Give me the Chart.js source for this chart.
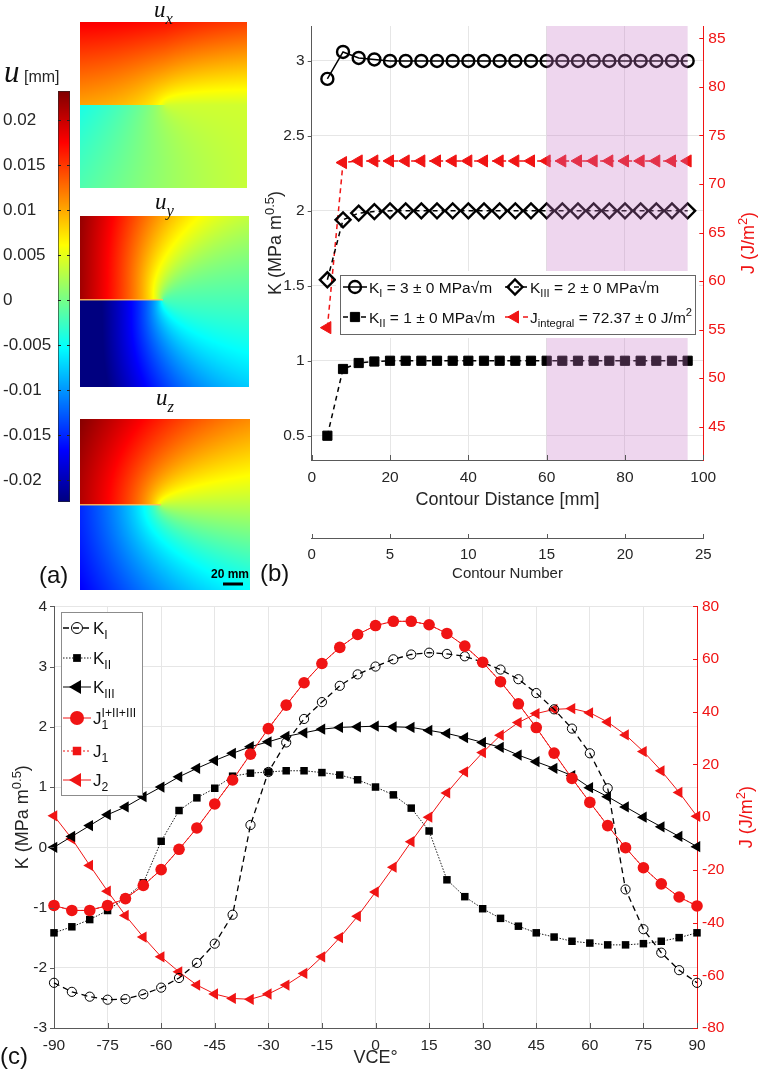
<!DOCTYPE html>
<html>
<head>
<meta charset="utf-8">
<title>Crack tip displacement fields, K and J</title>
<script src="https://cdn.jsdelivr.net/npm/chart.js@4.4.1/dist/chart.umd.min.js"></script>
<style>
  html, body { margin: 0; padding: 0; background: #fff; }
  #page { position: relative; width: 762px; height: 1077px; overflow: hidden; }
  canvas { position: absolute; }
</style>
</head>
<body>
<div id="page">
  <canvas id="panelA" width="255" height="600" style="left:0;top:0"></canvas>
  <canvas id="panelB" width="512" height="590" style="left:250px;top:0"></canvas>
  <canvas id="panelC" width="762" height="487" style="left:0;top:590px"></canvas>
</div>
<script>
const FONT = '"Liberation Sans", Arial, Helvetica, sans-serif';
const SERIF = '"Liberation Serif", "DejaVu Serif", serif';
const INK = '#262626';
const RED = 'rgb(240,20,20)';
const GRID = '#e6e6e6';
const AXIS = '#595959';

Chart.defaults.font.family = FONT;
Chart.defaults.color = INK;

// ---------- (a) colour scale of displacement maps ----------
const uMin = -0.0224, uMax = 0.0232;
const uTicks = [-0.02, -0.015, -0.01, -0.005, 0, 0.005, 0.01, 0.015, 0.02];
const uTickLabels = ['-0.02', '-0.015', '-0.01', '-0.005', '0', '0.005', '0.01', '0.015', '0.02'];

// ---------- (b) K and J against contour ----------
const contourDist = [4, 8, 12, 16, 20, 24, 28, 32, 36, 40, 44, 48, 52, 56, 60, 64, 68, 72, 76, 80, 84, 88, 92, 96];
const kIB   = [2.88, 3.06, 3.02, 3.01, 3.00, 3.00, 3.00, 3.00, 3.00, 3.00, 3.00, 3.00, 3.00, 3.00, 3.00, 3.00, 3.00, 3.00, 3.00, 3.00, 3.00, 3.00, 3.00, 3.00];
const kIIB  = [0.50, 0.945, 0.985, 0.995, 1.00, 1.00, 1.00, 1.00, 1.00, 1.00, 1.00, 1.00, 1.00, 1.00, 1.00, 1.00, 1.00, 1.00, 1.00, 1.00, 1.00, 1.00, 1.00, 1.00];
const kIIIB = [1.54, 1.94, 1.985, 1.995, 2.00, 2.00, 2.00, 2.00, 2.00, 2.00, 2.00, 2.00, 2.00, 2.00, 2.00, 2.00, 2.00, 2.00, 2.00, 2.00, 2.00, 2.00, 2.00, 2.00];
const jIntB = [55.2, 72.2, 72.37, 72.37, 72.37, 72.37, 72.37, 72.37, 72.37, 72.37, 72.37, 72.37, 72.37, 72.37, 72.37, 72.37, 72.37, 72.37, 72.37, 72.37, 72.37, 72.37, 72.37, 72.37];
const shadeB = [60, 96];
const distTicks = [0, 20, 40, 60, 80, 100];
const contourNumTicks = [0, 5, 10, 15, 20, 25];
const kTicksB = [0.5, 1, 1.5, 2, 2.5, 3];
const jTicksB = [45, 50, 55, 60, 65, 70, 75, 80, 85];
const kRangeB = [0.338, 3.233];
const jRangeB = [41.57, 86.27];

// ---------- (c) K and J against VCE angle ----------
const vce = [-90, -85, -80, -75, -70, -65, -60, -55, -50, -45, -40, -35, -30, -25, -20, -15, -10, -5, 0,
             5, 10, 15, 20, 25, 30, 35, 40, 45, 50, 55, 60, 65, 70, 75, 80, 85, 90];
const kIC   = [-2.25, -2.40, -2.48, -2.53, -2.52, -2.44, -2.33, -2.17, -1.92, -1.60, -1.12, 0.37, 1.25, 1.74, 2.13, 2.41, 2.68, 2.87, 3.00,
               3.12, 3.20, 3.23, 3.21, 3.17, 3.07, 2.95, 2.79, 2.56, 2.29, 1.97, 1.56, 0.98, -0.70, -1.36, -1.75, -2.04, -2.25];
const kIIC  = [-1.42, -1.32, -1.20, -1.05, -0.84, -0.59, 0.10, 0.61, 0.82, 0.98, 1.18, 1.23, 1.25, 1.27, 1.27, 1.24, 1.20, 1.12, 1.00,
               0.87, 0.65, 0.27, -0.54, -0.82, -1.02, -1.18, -1.31, -1.42, -1.49, -1.56, -1.59, -1.62, -1.62, -1.60, -1.56, -1.50, -1.42];
const kIIIC = [0.00, 0.18, 0.36, 0.54, 0.67, 0.84, 1.00, 1.17, 1.31, 1.44, 1.56, 1.67, 1.75, 1.84, 1.90, 1.96, 1.99, 2.00, 2.01,
               2.00, 1.99, 1.94, 1.89, 1.82, 1.74, 1.66, 1.53, 1.42, 1.31, 1.19, 0.99, 0.84, 0.67, 0.50, 0.34, 0.18, 0.01];
const jSumC = [-33.5, -35.4, -35.4, -33.5, -30.9, -25.9, -19.9, -12.2, -4.1, 5.0, 14.1, 23.9, 33.6, 42.5, 51.0, 58.3, 64.4, 69.3, 72.7,
               74.3, 74.3, 73.0, 69.7, 64.9, 58.8, 51.4, 43.0, 34.0, 24.3, 14.7, 5.6, -3.2, -11.6, -19.2, -25.3, -30.3, -33.7];
const j1C   = [-33.5, -35.4, -35.4, -33.5, -30.9, -25.9, -19.9, -12.2, -4.1, 5.0, 14.1, 23.9, 33.6, 42.5, 51.0, 58.3, 64.4, 69.3, 72.7,
               74.3, 74.3, 73.0, 69.7, 64.9, 58.8, 51.4, 43.0, 34.0, 24.3, 14.7, 5.6, -3.2, -11.6, -19.2, -25.3, -30.3, -33.7];
const j2C   = [0.5, -8.2, -18.3, -28.1, -37.3, -45.5, -53.0, -58.7, -63.7, -67.1, -68.8, -69.1, -67.1, -63.7, -59.3, -53.0, -45.7, -37.6, -28.4,
               -19.0, -9.3, 0.0, 9.2, 17.2, 24.5, 31.1, 35.9, 39.3, 40.9, 41.2, 39.6, 36.1, 31.2, 24.9, 17.6, 9.4, 0.3];
const vceTicks = [-90, -75, -60, -45, -30, -15, 0, 15, 30, 45, 60, 75, 90];
const kTicksC = [-3, -2, -1, 0, 1, 2, 3, 4];
const jTicksC = [-80, -60, -40, -20, 0, 20, 40, 60, 80];

// ---------- helpers ----------
const pts = (xs, ys) => xs.map((x, i) => ({ x, y: ys[i] }));
const fixedTicks = values => s => { s.ticks = values.map(v => ({ value: v })); };
const plain = v => String(v);

function richText(ctx, parts, x, y, size, color, align, rot, fam, style) {
  const family = fam || FONT, st = style || '';
  ctx.save();
  ctx.translate(x, y);
  if (rot) ctx.rotate(rot);
  ctx.fillStyle = color;
  ctx.textAlign = 'left';
  ctx.textBaseline = 'alphabetic';
  const small = size * 0.72;
  let w = 0;
  const items = parts.map(([t, lvl, noAdv]) => {
    const sz = lvl ? small : size;
    ctx.font = st + sz + 'px ' + family;
    const tw = ctx.measureText(t).width;
    const it = { t, sz, dy: lvl === 1 ? -size * 0.42 : (lvl === -1 ? size * 0.3 : 0), adv: noAdv ? 0 : tw, w: tw };
    w += it.adv;
    return it;
  });
  if (items.length) w = Math.max(w, w - items[items.length - 1].adv + items[items.length - 1].w);
  let cx = align === 'center' ? -w / 2 : (align === 'right' ? -w : 0);
  const base = size * 0.36;
  for (const it of items) {
    ctx.font = st + it.sz + 'px ' + family;
    ctx.fillText(it.t, cx, base + it.dy);
    cx += it.adv;
  }
  ctx.restore();
}

function marker(ctx, style, x, y, r, fill, stroke, lw) {
  ctx.save();
  ctx.beginPath();
  if (style === 'circle') ctx.arc(x, y, r, 0, Math.PI * 2);
  else if (style === 'rect') { const h = r * Math.SQRT1_2; ctx.rect(x - h, y - h, 2 * h, 2 * h); }
  else if (style === 'rectRot') { ctx.moveTo(x - r, y); ctx.lineTo(x, y - r); ctx.lineTo(x + r, y); ctx.lineTo(x, y + r); ctx.closePath(); }
  else { ctx.moveTo(x - r, y); ctx.lineTo(x + r / 2, y - r * 0.866); ctx.lineTo(x + r / 2, y + r * 0.866); ctx.closePath(); }
  if (fill) { ctx.fillStyle = fill; ctx.fill(); }
  if (stroke && lw) { ctx.strokeStyle = stroke; ctx.lineWidth = lw; ctx.stroke(); }
  ctx.restore();
}

function legendLine(ctx, ds, x0, x1, y) {
  ctx.save();
  ctx.strokeStyle = ds.borderColor;
  ctx.lineWidth = ds.borderWidth;
  ctx.setLineDash(ds.borderDash || []);
  ctx.beginPath(); ctx.moveTo(x0, y); ctx.lineTo(x1, y); ctx.stroke();
  ctx.restore();
}

function xTickMarks(ctx, scale, y, len, color) {
  ctx.save(); ctx.strokeStyle = color; ctx.lineWidth = 1; ctx.beginPath();
  scale.ticks.forEach(t => { const px = Math.round(scale.getPixelForValue(t.value)) + 0.5; ctx.moveTo(px, y); ctx.lineTo(px, y + len); });
  ctx.stroke(); ctx.restore();
}
function yTickMarks(ctx, scale, x, len, color) {
  ctx.save(); ctx.strokeStyle = color; ctx.lineWidth = 1; ctx.beginPath();
  scale.ticks.forEach(t => { const py = Math.round(scale.getPixelForValue(t.value)) + 0.5; ctx.moveTo(x, py); ctx.lineTo(x + len, py); });
  ctx.stroke(); ctx.restore();
}

// jet colour map
const clamp01 = v => Math.max(0, Math.min(1, v));
function jet(t) {
  t = clamp01(t);
  return [clamp01(Math.min(4 * t - 1.5, -4 * t + 4.5)) * 255,
          clamp01(Math.min(4 * t - 0.5, -4 * t + 3.5)) * 255,
          clamp01(Math.min(4 * t + 0.5, -4 * t + 2.5)) * 255];
}

// approximate near-tip displacement maps (image panels, px units around the tip)
function fieldValue(kind, dx, dy) {
  const r = Math.hypot(dx, dy), th = Math.atan2(-dy, dx);
  const s = Math.sqrt(r), sh = Math.sin(th / 2), ch = Math.cos(th / 2);
  if (kind === 'x') {
    const damp = dy < 0 ? 1 - 0.25 * Math.max(0, -dx) / 85 : 1;
    return 0.004 + 0.0009 * s * sh * damp + (dy < 0 ? -0.000085 * dy : 0.00004 * dy);
  }
  if (kind === 'y') return -0.002 + 0.0026 * s * sh * (3 - 2 * ch * ch) / 3 - 0.00001 * dy;
  return 0.003 + 0.002 * s * sh;
}

const fieldPanels = [
  { kind: 'x', sub: 'x', x: 80, y: 22,  w: 167, h: 166, tipX: 165, tipY: 105, titleY: 17,  crack: null },
  { kind: 'y', sub: 'y', x: 80, y: 216, w: 169, h: 171, tipX: 163, tipY: 300, titleY: 209, crack: 'rgba(255,190,90,0.9)' },
  { kind: 'z', sub: 'z', x: 80, y: 419, w: 170, h: 171, tipX: 161, tipY: 505, titleY: 405, crack: 'rgba(255,190,90,0.9)' }
];

function buildField(p) {
  const off = document.createElement('canvas');
  off.width = p.w; off.height = p.h;
  const c = off.getContext('2d');
  const img = c.createImageData(p.w, p.h);
  for (let j = 0; j < p.h; j++) {
    for (let i = 0; i < p.w; i++) {
      const v = fieldValue(p.kind, p.x + i + 0.5 - p.tipX, p.y + j + 0.5 - p.tipY);
      const col = jet((v - uMin) / (uMax - uMin));
      const k = (j * p.w + i) * 4;
      img.data[k] = col[0]; img.data[k + 1] = col[1]; img.data[k + 2] = col[2]; img.data[k + 3] = 255;
    }
  }
  c.putImageData(img, 0, 0);
  return off;
}

// ---------- panel (a) ----------
const fieldPlugin = {
  id: 'fields',
  afterDraw(chart) {
    const { ctx, chartArea: a } = chart;
    const ys = chart.scales.y;
    // colour bar
    for (let py = Math.floor(a.top); py < a.bottom; py++) {
      const c = jet((ys.getValueForPixel(py + 0.5) - uMin) / (uMax - uMin));
      ctx.fillStyle = `rgb(${c[0] | 0},${c[1] | 0},${c[2] | 0})`;
      ctx.fillRect(a.left, py, a.right - a.left, 1);
    }
    ctx.strokeStyle = 'rgba(40,40,40,0.6)';
    ctx.lineWidth = 1;
    ctx.strokeRect(a.left + 0.5, a.top + 0.5, a.right - a.left - 1, a.bottom - a.top - 1);
    ctx.save(); ctx.strokeStyle = '#222'; ctx.beginPath();
    ys.ticks.forEach(t => { const py = Math.round(ys.getPixelForValue(t.value)) + 0.5; ctx.moveTo(a.left, py); ctx.lineTo(a.left + 3, py); ctx.moveTo(a.right, py); ctx.lineTo(a.right - 3, py); });
    ctx.stroke(); ctx.restore();

    // displacement maps
    fieldPanels.forEach(p => {
      if (!p.img) p.img = buildField(p);
      ctx.drawImage(p.img, p.x, p.y);
      if (p.crack) {
        ctx.fillStyle = p.crack;
        ctx.fillRect(p.x, p.tipY - 1, p.tipX - p.x, 1.5);
      }
      richText(ctx, [['u', 0], [p.sub, -1]], p.x + p.w / 2, p.titleY - 8.3, 23, '#111', 'center', 0, SERIF, 'italic ');
    });

    // colour bar label
    richText(ctx, [['u', 0]], 4, 82 - 0.36 * 31, 31, '#111', 'left', 0, SERIF, 'italic ');
    richText(ctx, [['[mm]', 0]], 24, 82 - 0.36 * 16, 16, INK, 'left');

    // scale bar
    ctx.fillStyle = '#000';
    ctx.fillRect(223, 582.5, 20, 3);
    ctx.font = 'bold 12px ' + FONT;
    ctx.textAlign = 'center';
    ctx.textBaseline = 'alphabetic';
    ctx.fillText('20 mm', 230, 578);

    richText(ctx, [['(a)', 0]], 39, 574, 24, '#111', 'left');
  }
};

new Chart(document.getElementById('panelA'), {
  type: 'scatter',
  data: { datasets: [] },
  options: {
    responsive: false, animation: false, events: [],
    layout: { padding: { top: 91, bottom: 98, left: 3, right: 185 } },
    plugins: { legend: { display: false }, tooltip: { enabled: false } },
    scales: {
      x: { type: 'linear', display: false, min: 0, max: 1 },
      y: {
        type: 'linear', position: 'left', min: uMin, max: uMax,
        afterBuildTicks: fixedTicks(uTicks),
        afterFit: s => { s.width = 55; },
        grid: { display: false }, border: { display: false },
        ticks: { crossAlign: 'far', padding: 0, color: INK, font: { size: 17 }, autoSkip: false,
                 callback: (v, i) => uTickLabels[i] }
      }
    }
  },
  plugins: [fieldPlugin]
});

// ---------- panel (b) ----------
const bPlugin = {
  id: 'panelBExtras',
  afterDatasetsDraw(chart) {
    const { ctx, chartArea: a, scales } = chart;
    const x0 = scales.x.getPixelForValue(shadeB[0]), x1 = scales.x.getPixelForValue(shadeB[1]);
    ctx.save();
    ctx.fillStyle = 'rgba(200,120,200,0.3)';
    ctx.fillRect(x0, a.top, x1 - x0, a.bottom - a.top);
    ctx.restore();
  },
  afterDraw(chart) {
    const { ctx, chartArea: a, scales } = chart;
    const ds = chart.data.datasets;
    xTickMarks(ctx, scales.x, a.bottom, -5, AXIS);
    xTickMarks(ctx, scales.x2, scales.x2.top, -4, AXIS);
    yTickMarks(ctx, scales.y, a.left, -4, AXIS);
    yTickMarks(ctx, scales.y1, a.right, -4, RED);

    // legend
    const L = { x: 90, y: 275, w: 355, h: 59 };
    ctx.fillStyle = '#fff';
    ctx.fillRect(L.x - 4, L.y - 4, L.w + 8, L.h + 8);
    ctx.strokeStyle = '#666'; ctx.lineWidth = 1;
    ctx.strokeRect(L.x + 0.5, L.y + 0.5, L.w, L.h);
    const rows = [
      { d: 0, mx: 105, lx: [93, 117], tx: 119, y: 287, parts: [['K', 0], ['I', -1], [' = 3 \u00b1 0 MPa\u221am', 0]] },
      { d: 1, mx: 265, lx: [255, 277], tx: 280, y: 287, parts: [['K', 0], ['III', -1], [' = 2 \u00b1 0 MPa\u221am', 0]] },
      { d: 2, mx: 105, lx: [93, 117], tx: 119, y: 317, parts: [['K', 0], ['II', -1], [' = 1 \u00b1 0 MPa\u221am', 0]] },
      { d: 3, mx: 265, lx: [255, 279], tx: 280, y: 317, parts: [['J', 0], ['integral', -1], [' = 72.37 \u00b1 0 J/m', 0], ['2', 1]] }
    ];
    rows.forEach(r => {
      const d = ds[r.d];
      legendLine(ctx, d, r.lx[0], r.lx[1], r.y);
      marker(ctx, d.pointStyle === 'triangle' ? 'tri' : d.pointStyle, r.mx, r.y, d.pointRadius,
             d.pointBackgroundColor, d.pointBorderColor, d.pointBorderWidth);
      richText(ctx, r.parts, r.tx, r.y, 15.5, '#111', 'left');
    });

    // axis titles
    const cx = (a.left + a.right) / 2, cy = (a.top + a.bottom) / 2;
    richText(ctx, [['K (MPa m', 0], ['0.5', 1], [')', 0]], 25, cy, 18, INK, 'center', -Math.PI / 2);
    richText(ctx, [['J (J/m', 0], ['2', 1], [')', 0]], 498, cy, 18, RED, 'center', -Math.PI / 2);
    richText(ctx, [['Contour Distance [mm]', 0]], cx, 499, 18, INK, 'center');
    richText(ctx, [['Contour Number', 0]], cx, 573, 15, INK, 'center');
    richText(ctx, [['(b)', 0]], 10, 572, 24, '#111', 'left');
  }
};

new Chart(document.getElementById('panelB'), {
  type: 'line',
  data: {
    datasets: [
      { label: 'K_I', data: pts(contourDist, kIB), yAxisID: 'y', borderColor: '#000', borderWidth: 1.5,
        pointStyle: 'circle', pointRadius: 6, pointBorderWidth: 2.4, pointBorderColor: '#000', pointBackgroundColor: 'rgba(0,0,0,0)' },
      { label: 'K_III', data: pts(contourDist, kIIIB), yAxisID: 'y', borderColor: '#000', borderWidth: 1.5, borderDash: [5, 4],
        pointStyle: 'rectRot', pointRadius: 7.5, pointBorderWidth: 2.4, pointBorderColor: '#000', pointBackgroundColor: 'rgba(0,0,0,0)' },
      { label: 'K_II', data: pts(contourDist, kIIB), yAxisID: 'y', borderColor: '#000', borderWidth: 1.5, borderDash: [5, 4],
        pointStyle: 'rect', pointRadius: 6.5, pointBorderWidth: 1, pointBorderColor: '#000', pointBackgroundColor: '#000' },
      { label: 'J_integral', data: pts(contourDist, jIntB), yAxisID: 'y1', borderColor: RED, borderWidth: 1.5, borderDash: [5, 4],
        pointStyle: 'triangle', pointRotation: -90, pointRadius: 7, pointBorderWidth: 1, pointBorderColor: RED, pointBackgroundColor: RED }
    ].map(d => Object.assign({ tension: 0, fill: false, clip: false }, d))
  },
  options: {
    responsive: false, animation: false, events: [],
    layout: { padding: { top: 26, left: 0, right: 0, bottom: 0 } },
    plugins: { legend: { display: false }, tooltip: { enabled: false } },
    scales: {
      x: {
        type: 'linear', position: 'bottom', min: 0, max: 100,
        afterBuildTicks: fixedTicks(distTicks), afterFit: s => { s.height = 78; },
        grid: { color: GRID, drawTicks: false }, border: { color: AXIS },
        ticks: { padding: 8, color: INK, font: { size: 15.5 }, maxRotation: 0, autoSkip: false, callback: plain }
      },
      x2: {
        type: 'linear', position: 'bottom', weight: 1, min: 0, max: 25,
        afterBuildTicks: fixedTicks(contourNumTicks), afterFit: s => { s.height = 52; },
        grid: { drawOnChartArea: false, drawTicks: false }, border: { color: AXIS },
        ticks: { padding: 8, color: INK, font: { size: 15 }, maxRotation: 0, autoSkip: false, callback: plain }
      },
      y: {
        type: 'linear', position: 'left', min: kRangeB[0], max: kRangeB[1],
        afterBuildTicks: fixedTicks(kTicksB), afterFit: s => { s.width = 61.7; },
        grid: { color: GRID, drawTicks: false }, border: { color: AXIS },
        ticks: { padding: 7, color: INK, font: { size: 15.5 }, autoSkip: false, callback: plain }
      },
      y1: {
        type: 'linear', position: 'right', min: jRangeB[0], max: jRangeB[1],
        afterBuildTicks: fixedTicks(jTicksB), afterFit: s => { s.width = 58.7; },
        grid: { drawOnChartArea: false, drawTicks: false }, border: { color: RED },
        ticks: { padding: 5, color: RED, font: { size: 15.5 }, autoSkip: false, callback: plain }
      }
    }
  },
  plugins: [bPlugin]
});

// ---------- panel (c) ----------
const cPlugin = {
  id: 'panelCExtras',
  afterDraw(chart) {
    const { ctx, chartArea: a, scales } = chart;
    const ds = chart.data.datasets;
    xTickMarks(ctx, scales.x, a.bottom, -5, AXIS);
    yTickMarks(ctx, scales.y, a.left, -4, AXIS);
    yTickMarks(ctx, scales.y1, a.right, -4, RED);

    // legend
    const L = { x: 61, y: 22, w: 81, h: 183 };
    ctx.fillStyle = '#fff';
    ctx.fillRect(L.x, L.y, L.w, L.h);
    ctx.strokeStyle = '#8c8c8c'; ctx.lineWidth = 1;
    ctx.strokeRect(L.x + 0.5, L.y + 0.5, L.w, L.h);
    const rows = [
      { label: 'K_I',   y: 38,  r: 5.5, parts: [['K', 0], ['I', -1]] },
      { label: 'K_II',  y: 68,  r: 5.5, parts: [['K', 0], ['II', -1]] },
      { label: 'K_III', y: 97,  r: 8,   parts: [['K', 0], ['III', -1]] },
      { label: 'J_sum', y: 128, r: 7,   parts: [['J', 0], ['1', -1, true], ['I+II+III', 1]] },
      { label: 'J_1',   y: 161, r: 6,   parts: [['J', 0], ['1', -1]] },
      { label: 'J_2',   y: 190, r: 8,   parts: [['J', 0], ['2', -1]] }
    ];
    rows.forEach(r => {
      const d = ds.find(x => x.label === r.label);
      legendLine(ctx, d, 63, 91, r.y);
      marker(ctx, d.pointStyle === 'triangle' ? 'tri' : d.pointStyle, 77, r.y, r.r,
             d.pointBackgroundColor, d.pointBorderColor, d.pointBorderWidth);
      richText(ctx, r.parts, 93, r.y, 17, '#111', 'left');
    });

    const cx = (a.left + a.right) / 2, cy = (a.top + a.bottom) / 2;
    richText(ctx, [['K (MPa m', 0], ['0.5', 1], [')', 0]], 22, cy, 18, INK, 'center', -Math.PI / 2);
    richText(ctx, [['J (J/m', 0], ['2', 1], [')', 0]], 746, cy, 18, RED, 'center', -Math.PI / 2);
    richText(ctx, [['VCE\u00b0', 0]], cx, 467, 18, INK, 'center');
    richText(ctx, [['(c)', 0]], 0, 465, 24, '#111', 'left');
  }
};

new Chart(document.getElementById('panelC'), {
  type: 'line',
  data: {
    datasets: [
      { label: 'J_sum', data: pts(vce, jSumC), yAxisID: 'y1', borderColor: RED, borderWidth: 1,
        pointStyle: 'circle', pointRadius: 5.8, pointBorderWidth: 0, pointBorderColor: RED, pointBackgroundColor: RED },
      { label: 'J_1', data: pts(vce, j1C), yAxisID: 'y1', borderColor: RED, borderWidth: 1, borderDash: [2, 2],
        pointStyle: 'rect', pointRadius: 5.5, pointBorderWidth: 0, pointBorderColor: RED, pointBackgroundColor: RED },
      { label: 'K_I', data: pts(vce, kIC), yAxisID: 'y', borderColor: '#000', borderWidth: 1.3, borderDash: [6, 4],
        pointStyle: 'circle', pointRadius: 4.6, pointBorderWidth: 1, pointBorderColor: '#000', pointBackgroundColor: 'rgba(0,0,0,0)' },
      { label: 'K_II', data: pts(vce, kIIC), yAxisID: 'y', borderColor: '#000', borderWidth: 0.9, borderDash: [1.5, 1.5],
        pointStyle: 'rect', pointRadius: 5.3, pointBorderWidth: 0, pointBorderColor: '#000', pointBackgroundColor: '#000' },
      { label: 'K_III', data: pts(vce, kIIIC), yAxisID: 'y', borderColor: '#000', borderWidth: 1,
        pointStyle: 'triangle', pointRotation: -90, pointRadius: 6.5, pointBorderWidth: 0, pointBorderColor: '#000', pointBackgroundColor: '#000' },
      { label: 'J_2', data: pts(vce, j2C), yAxisID: 'y1', borderColor: RED, borderWidth: 1,
        pointStyle: 'triangle', pointRotation: -90, pointRadius: 6.5, pointBorderWidth: 0, pointBorderColor: RED, pointBackgroundColor: RED }
    ].map(d => Object.assign({ tension: 0, fill: false, clip: false }, d))
  },
  options: {
    responsive: false, animation: false, events: [],
    layout: { padding: { top: 15, left: 0, right: 0, bottom: 0 } },
    plugins: { legend: { display: false }, tooltip: { enabled: false } },
    scales: {
      x: {
        type: 'linear', position: 'bottom', min: -90, max: 90,
        afterBuildTicks: fixedTicks(vceTicks), afterFit: s => { s.height = 49; },
        grid: { color: GRID, drawTicks: false }, border: { color: AXIS },
        ticks: { padding: 8, color: INK, font: { size: 15.5 }, maxRotation: 0, autoSkip: false, callback: plain }
      },
      y: {
        type: 'linear', position: 'left', min: -3, max: 4,
        afterBuildTicks: fixedTicks(kTicksC), afterFit: s => { s.width = 54; },
        grid: { color: GRID, drawTicks: false }, border: { color: AXIS },
        ticks: { padding: 7, color: INK, font: { size: 15.5 }, autoSkip: false, callback: plain }
      },
      y1: {
        type: 'linear', position: 'right', min: -80, max: 80,
        afterBuildTicks: fixedTicks(jTicksC), afterFit: s => { s.width = 65; },
        grid: { drawOnChartArea: false, drawTicks: false }, border: { color: RED },
        ticks: { padding: 5, color: RED, font: { size: 15.5 }, autoSkip: false, callback: plain }
      }
    }
  },
  plugins: [cPlugin]
});
</script>
</body>
</html>
